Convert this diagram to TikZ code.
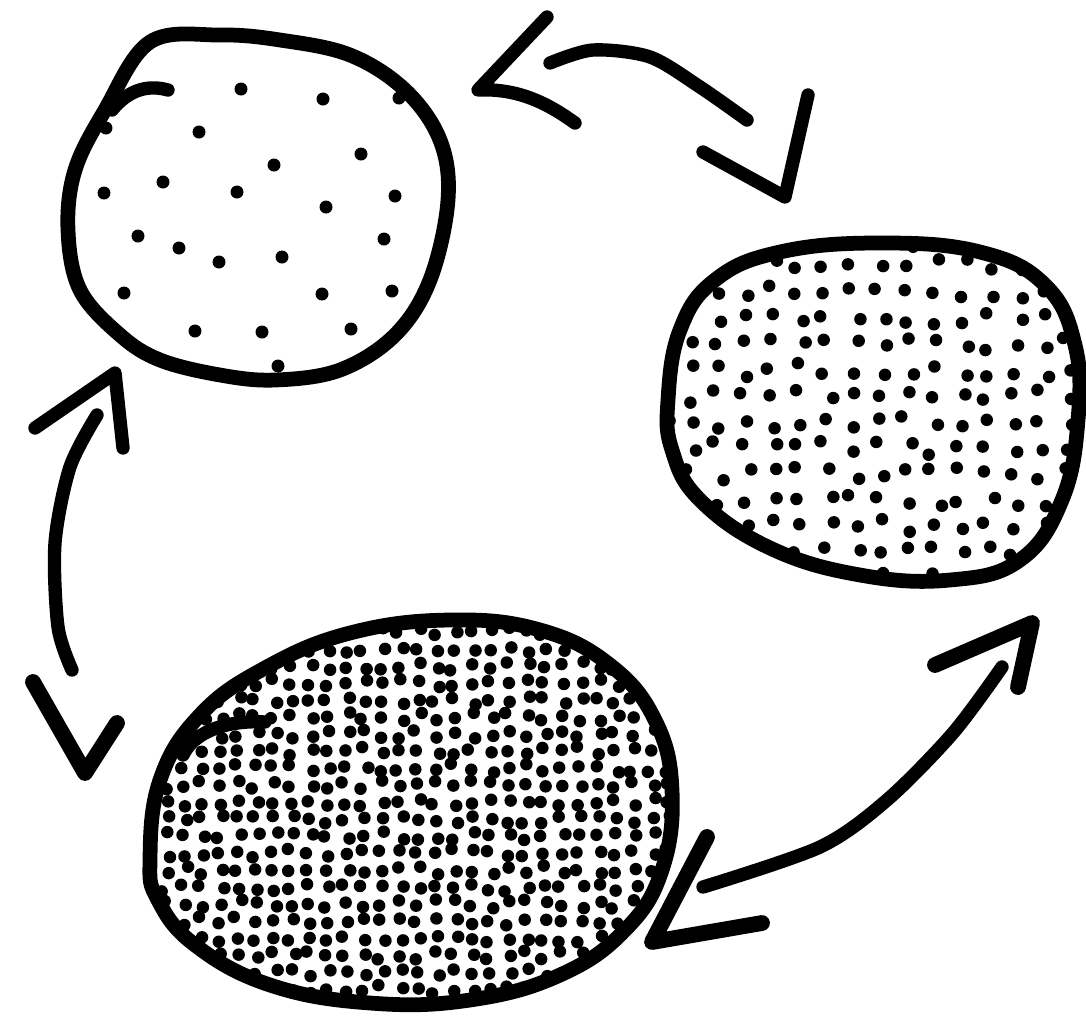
\documentclass[tikz,border=0pt]{standalone}
\usepackage{tikz}
\tikzset{
  inkline/.style   = {line width=8.4pt,line cap=round,line join=round},
  inkstroke/.style = {line width=7.6pt,line cap=round,line join=round},
  inkhead/.style   = {line width=9pt,line cap=round,line join=round},
  inkdot/.style    = {fill=black}
}
% jittered grid of dots: x list, y list, jitter, dot radius
\newcommand{\inkdots}[4]{%
  \foreach \gx in {#1}{
    \foreach \gy in {#2}{
      \pgfmathsetmacro{\dx}{\gx+#3*rand}
      \pgfmathsetmacro{\dy}{\gy+#3*rand}
      \fill[inkdot] (\dx,\dy) circle[radius=#4];
    }
  }
}
\begin{document}
\begin{tikzpicture}[x=0.02cm,y=-0.02cm]
  \useasboundingbox (0,0) rectangle (1086,1015);
  \pgfmathsetseed{42}

  % few particles
  \foreach \px/\py in {241/89,323/99,399/98,106/128,199/132,361/154,274/165,
      163/182,104/193,237/192,395/196,326/207,138/236,179/248,384/239,
      282/257,219/262,124/293,322/294,392/291,195/331,262/332,351/329,278/366}
    \fill[inkdot] (\px,\py) circle[radius=0.13cm];
  \draw[inkline] plot[smooth cycle,tension=0.6] coordinates {
    (150,42) (105,110) (75,170) (68,230) (80,290) (120,335) (160,360)
    (220,375) (275,380) (340,370) (395,335) (430,280) (448,200) (440,140)
    (405,90) (350,55) (280,40) (220,35)};
  \draw[inkstroke] (112,110) .. controls (130,88) and (150,85) .. (168,90);

  % more particles
  \begin{scope}
    \clip plot[smooth cycle,tension=0.7] coordinates {
      (668,400) (680,330) (715,280) (780,252) (880,243) (980,252) (1045,285)
      (1075,345) (1078,420) (1062,500) (1020,560) (950,580) (860,575)
      (770,548) (700,500) (672,450)};
    \inkdots{665,692,...,1080}{240,266,...,585}{7}{0.125cm}
  \end{scope}
  \draw[inkline] plot[smooth cycle,tension=0.7] coordinates {
    (668,400) (680,330) (715,280) (780,252) (880,243) (980,252) (1045,285)
    (1075,345) (1078,420) (1062,500) (1020,560) (950,580) (860,575)
    (770,548) (700,500) (672,450)};

  % many particles
  \begin{scope}
    \clip plot[smooth cycle,tension=0.7] coordinates {
      (150,860) (160,780) (200,715) (265,668) (350,633) (450,620) (540,630)
      (610,665) (655,720) (672,790) (662,870) (625,930) (560,975) (470,1000)
      (370,1003) (270,985) (195,945) (158,900)};
    \inkdots{148,166,...,675}{615,632,...,1005}{4.5}{0.125cm}
  \end{scope}
  \draw[inkline] plot[smooth cycle,tension=0.7] coordinates {
    (150,860) (160,780) (200,715) (265,668) (350,633) (450,620) (540,630)
    (610,665) (655,720) (672,790) (662,870) (625,930) (560,975) (470,1000)
    (370,1003) (270,985) (195,945) (158,900)};
  \draw[inkstroke] (183,755) .. controls (195,730) and (230,720) .. (265,722);

  % top arrow
  \draw[inkstroke] (547,17) -- (478,90) .. controls (520,88) and (550,105) .. (575,123);
  \draw[inkstroke] plot[smooth] coordinates {(550,63) (593,50) (650,57) (700,87) (747,120)};
  \draw[inkstroke] (808,95) -- (785,197) -- (703,152);

  % left arrow
  \draw[inkstroke] (35,428) -- (115,373) -- (123,448);
  \draw[inkstroke] plot[smooth] coordinates {(97,415) (70,467) (55,543) (58,627) (72,670)};
  \draw[inkhead] (33,682) -- (85,773) -- (117,723);

  % bottom right arrow
  \draw[inkhead] (935,665) -- (1032,623) -- (1018,687);
  \draw[inkstroke] plot[smooth] coordinates {(1002,667) (953,733) (887,800) (820,847) (703,887)};
  \draw[inkhead] (707,837) -- (652,942) -- (762,923);
\end{tikzpicture}
\end{document}
